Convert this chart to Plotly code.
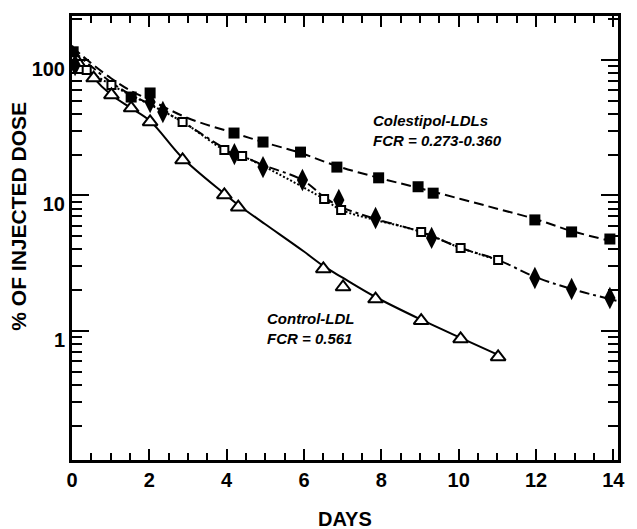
import plotly.graph_objects as go

# ---- data ----
# filled squares (Colestipol-LDL, dashed)
sq_days = [0.03, 1.53, 2.02, 4.19, 4.94, 5.91, 6.85, 7.93, 8.95, 9.34, 11.97, 12.92, 13.91]
sq_pct = [115, 53.3, 57.1, 28.9, 24.8, 20.9, 16.2, 13.5, 11.6, 10.4, 6.6, 5.38, 4.77]
sq_fit_days = [0, 0.49, 1.0, 1.53, 2.02, 2.99, 4.19, 4.94, 5.91, 6.85, 7.93, 8.95, 10.05, 11.02, 11.97, 12.92, 14.12]
sq_fit_pct = [124.7, 95.0, 73.7, 59.0, 50.7, 37.3, 28.9, 24.8, 20.6, 16.5, 13.5, 11.4, 9.42, 7.95, 6.71, 5.47, 4.47]

# filled diamonds (Colestipol-LDL, dash-dot)
dia_days = [0.08, 2.02, 2.35, 4.20, 4.94, 5.96, 6.90, 7.85, 9.30, 11.97, 12.92, 13.91]
dia_pct = [92, 49, 41.3, 20.2, 16.2, 13.0, 9.27, 6.82, 4.86, 2.46, 2.04, 1.75]
dia_fit_days = [0, 0.49, 1.0, 1.53, 2.02, 2.86, 3.94, 4.40, 4.94, 5.96, 6.52, 6.96, 7.85, 9.03, 10.05, 11.02, 11.97, 12.92, 14.12]
dia_fit_pct = [118.5, 90.3, 68.8, 55.1, 47.3, 34.9, 22.4, 19.6, 16.8, 13.0, 9.75, 8.22, 6.71, 5.38, 4.10, 3.34, 2.51, 2.04, 1.66]

# open squares (Colestipol-LDL, dotted)
osq_days = [0.38, 1.02, 2.86, 3.94, 4.40, 6.52, 6.96, 9.03, 10.05, 11.02]
osq_pct = [84.4, 65.4, 34.9, 21.7, 19.6, 9.42, 7.82, 5.38, 4.10, 3.34]

# open triangles (Control-LDL, solid)
tri_days = [0.56, 1.02, 1.53, 2.02, 2.86, 3.94, 4.30, 6.50, 7.01, 7.85, 9.03, 10.05, 11.02]
tri_pct = [73.6, 55.2, 44.2, 34.9, 18.3, 10.1, 8.2, 2.87, 2.11, 1.72, 1.19, 0.873, 0.643]
tri_fit_days = [0, 0.56, 1.02, 1.53, 2.02, 2.86, 3.94, 4.30, 4.99, 5.98, 6.50, 7.01, 7.85, 9.03, 10.05, 11.02]
tri_fit_pct = [128, 73.7, 55.1, 44.2, 35.5, 18.9, 10.3, 8.51, 6.16, 3.89, 3.02, 2.46, 1.78, 1.21, 0.888, 0.665]

x_ticks = [0, 2, 4, 6, 8, 10, 12, 14]
y_ticks = [1, 10, 100]
y_ticktext = ["1", "10", "100"]

FONT = "Liberation Sans, Arial, sans-serif"

fig = go.Figure()

# lines
fig.add_trace(go.Scatter(x=sq_fit_days, y=sq_fit_pct, mode="lines", line_shape="spline",
                         line=dict(color="black", width=2, dash="10px,5px"), hoverinfo="skip"))
fig.add_trace(go.Scatter(x=dia_fit_days, y=dia_fit_pct, mode="lines", line_shape="spline",
                         line=dict(color="black", width=2, dash="10px,4px,3px,4px"), hoverinfo="skip"))
fig.add_trace(go.Scatter(x=osq_days, y=osq_pct, mode="lines", line_shape="spline",
                         line=dict(color="black", width=2, dash="2px,2px"), hoverinfo="skip"))
fig.add_trace(go.Scatter(x=tri_fit_days, y=tri_fit_pct, mode="lines", line_shape="spline",
                         line=dict(color="black", width=2), hoverinfo="skip"))

# markers
fig.add_trace(go.Scatter(x=sq_days, y=sq_pct, mode="markers",
                         marker=dict(symbol="square", size=11, color="black")))
fig.add_trace(go.Scatter(x=dia_days, y=dia_pct, mode="markers",
                         marker=dict(symbol="diamond-tall", size=16, color="black")))
fig.add_trace(go.Scatter(x=osq_days, y=osq_pct, mode="markers",
                         marker=dict(symbol="square", size=8, color="white",
                                     line=dict(color="black", width=2))))
fig.add_trace(go.Scatter(x=tri_days, y=tri_pct, mode="markers",
                         marker=dict(symbol="triangle-up", size=13, color="white",
                                     line=dict(color="black", width=2))))

fig.update_layout(
    width=637, height=529,
    margin=dict(l=72, r=12, t=16, b=69),
    paper_bgcolor="white", plot_bgcolor="white",
    showlegend=False,
    font=dict(family=FONT, color="black"),
    xaxis=dict(
        range=[0, 14.12], tickvals=x_ticks, ticks="inside", ticklen=11, tickwidth=2,
        tickcolor="black", showline=True, linecolor="black", linewidth=3, mirror="ticks",
        showgrid=False, zeroline=False,
        tickfont=dict(family=FONT, size=20, weight="bold"),
        minor=dict(dtick=0.5, ticks="inside", ticklen=7, tickwidth=2, tickcolor="black", showgrid=False),
    ),
    yaxis=dict(
        type="log", range=[-0.953, 2.325], tickvals=y_ticks, ticktext=y_ticktext,
        ticks="inside", ticklen=17, tickwidth=2, tickcolor="black",
        showline=True, linecolor="black", linewidth=3, mirror="ticks",
        showgrid=False, zeroline=False, ticklabelshift=9,
        tickfont=dict(family=FONT, size=20, weight="bold"),
        minor=dict(dtick="D1", ticks="inside", ticklen=10, tickwidth=2, tickcolor="black", showgrid=False),
    ),
    annotations=[
        dict(text="Colestipol-LDLs<br>FCR = 0.273-0.360", xref="paper", yref="paper",
             x=0.548, y=0.742, xanchor="left", yanchor="middle", align="left", showarrow=False,
             font=dict(family=FONT, size=15, style="italic", weight="bold")),
        dict(text="Control-LDL<br>FCR = 0.561", xref="paper", yref="paper",
             x=0.353, y=0.297, xanchor="left", yanchor="middle", align="left", showarrow=False,
             font=dict(family=FONT, size=15, style="italic", weight="bold")),
        dict(text="DAYS", xref="paper", yref="paper", x=0.5, y=-0.133,
             xanchor="center", yanchor="middle", showarrow=False,
             font=dict(family=FONT, size=20, weight="bold")),
        dict(text="% OF INJECTED DOSE", xref="paper", yref="paper", x=-0.0995, y=0.5495,
             xanchor="center", yanchor="middle", textangle=-90, showarrow=False,
             font=dict(family=FONT, size=21, weight="bold")),
    ],
)

fig.write_html("out.html", config={"displayModeBar": False},
               post_script="document.body.style.margin='0';document.body.style.overflow='hidden';")
